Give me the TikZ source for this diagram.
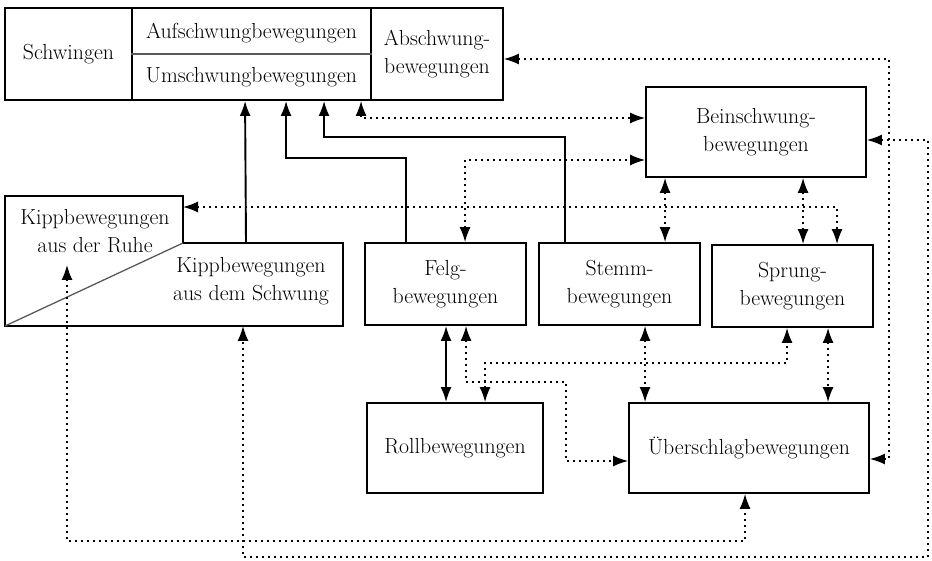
\documentclass[tikz,border=0pt]{standalone}
\usepackage{tikz}
\usetikzlibrary{arrows.meta}
\usetikzlibrary{positioning}

\begin{document}
\begin{tikzpicture}[x=1pt, y=-1pt,
	every node/.style={font=\fontsize{21.8}{27.5}\selectfont, inner sep=0pt, align=center},
	box/.style={draw, line width=1.9pt, rectangle},
	thinline/.style={draw=black!65, line width=1.3pt},
	solidline/.style={line width=1.9pt},
	dotline/.style={line width=1.4pt, dash pattern=on 1.4pt off 4.6pt},
	>={Latex[length=15pt, width=11pt]}]
	\useasboundingbox (0, 0) rectangle (932, 561);

	\draw (68.5, 54) node[box, minimum width=127pt, minimum height=92pt] (schwingen) {Schwingen};
	\draw (251.5, 54) node[box, minimum width=239pt, minimum height=92pt] (mitte) {};
	\draw (437, 54) node[box, minimum width=132pt, minimum height=92pt] (abschwung) {Abschwung-\\bewegungen};
	\draw (251.5, 33) node (aufschwung) {Aufschwungbewegungen};
	\draw (251.5, 77) node (umschwung) {Umschwungbewegungen};
	\draw[thinline] (mitte.west) -- (mitte.east);

	\draw (756, 132) node[box, minimum width=220pt, minimum height=90pt] (beinschwung) {Beinschwung-\\bewegungen};

	\coordinate (kippnw) at (5, 196);
	\coordinate (kippne) at (183, 196);
	\coordinate (kippmid) at (183, 243);
	\coordinate (kippe) at (343, 243);
	\coordinate (kippse) at (343, 326);
	\coordinate (kippsw) at (5, 326);
	\draw[line width=1.9pt] (kippnw) -- (kippne) -- (kippmid) -- (kippe) -- (kippse) -- (kippsw) -- cycle;
	\draw[thinline] (kippsw) -- (kippmid);
	\draw (95, 231) node (kippruhe) {Kippbewegungen\\aus der Ruhe};
	\draw (251, 281) node (kippschwung) {Kippbewegungen\\aus dem Schwung};

	\draw (445.5, 284) node[box, minimum width=161pt, minimum height=82pt] (felg) {Felg-\\bewegungen};
	\draw (619.5, 284) node[box, minimum width=161pt, minimum height=82pt] (stemm) {Stemm-\\bewegungen};
	\draw (792.5, 286) node[box, minimum width=161pt, minimum height=82pt] (sprung) {Sprung-\\bewegungen};
	\draw (455, 448) node[box, minimum width=176pt, minimum height=90pt] (roll) {Rollbewegungen};
	\draw (749, 448) node[box, minimum width=240pt, minimum height=90pt] (ueberschlag) {Überschlagbewegungen};

	\draw[solidline, ->] ([xshift=63pt]kippmid) -- ([xshift=114pt]mitte.south west);
	\draw[solidline, ->] ([xshift=42pt]felg.north west) -- ++(0, -84) -| ([xshift=155pt]mitte.south west);
	\draw[solidline, ->] ([xshift=27pt]stemm.north west) -- ++(0, -105) -| ([xshift=193pt]mitte.south west);
	\draw[solidline, <->] ([xshift=82pt]felg.south west) -- ([xshift=80pt]roll.north west);

	\draw[dotline, <->] ([xshift=230pt]mitte.south west) |- ([yshift=14pt]beinschwung.west);
	\draw[dotline, <->] ([xshift=101pt]felg.north west) |- ([yshift=-28pt]beinschwung.west);
	\draw[dotline, <->] ([yshift=-11pt]kippne) -| ([xshift=126pt]sprung.north west);
	\draw[dotline, <->] ([xshift=20pt]beinschwung.south west) -- ([xshift=127pt]stemm.north west);
	\draw[dotline, <->] ([xshift=158pt]beinschwung.south west) -- ([xshift=92pt]sprung.north west);
	\draw[dotline, <->] ([yshift=-5pt]abschwung.east) -- ++(385, 0) |- ([yshift=-11pt]ueberschlag.east);
	\draw[dotline, <->] ([yshift=-8pt]beinschwung.east) -- ++(61, 0) -- ++(0, 417) -| ([xshift=238pt]kippsw);
	\draw[dotline, <->] ([shift={(62,-61)}]kippsw) -- ++(0, 276) -| ([xshift=117pt]ueberschlag.south west);
	\draw[dotline, <->] ([xshift=102pt]felg.south west) -- ++(0, 56) -- ++(100, 0) |- ([yshift=-13pt]ueberschlag.west);
	\draw[dotline, <->] ([xshift=119pt]roll.north west) -- ++(0, -39) -| ([xshift=76pt]sprung.south west);
	\draw[dotline, <->] ([xshift=107pt]stemm.south west) -- ([xshift=17pt]ueberschlag.north west);
	\draw[dotline, <->] ([xshift=117pt]sprung.south west) -- ([xshift=200pt]ueberschlag.north west);

\end{tikzpicture}
\end{document}
